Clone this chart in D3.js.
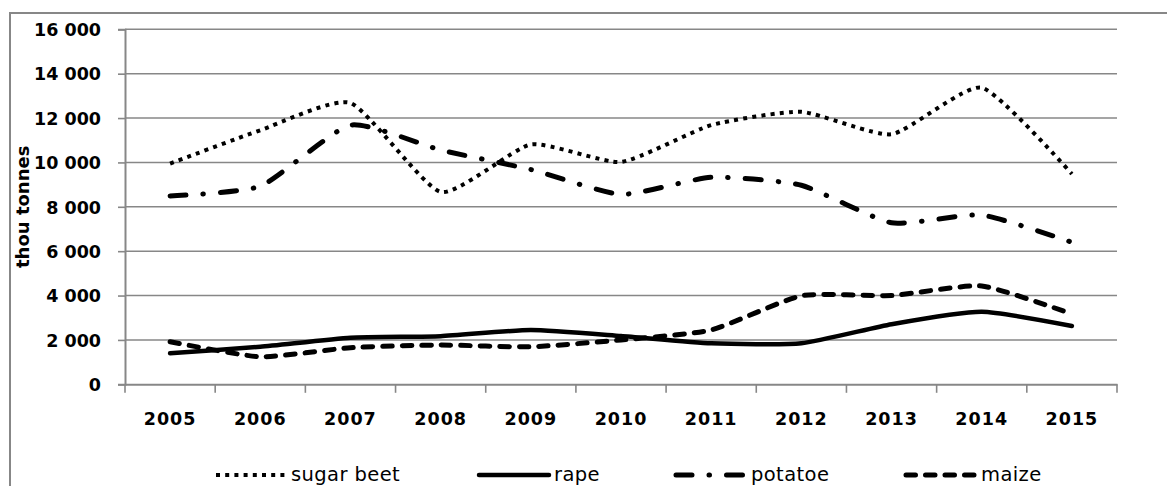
<!DOCTYPE html>
<html>
<head>
<meta charset="utf-8">
<script src="https://cdn.jsdelivr.net/npm/d3@7"></script>
<style>
  html, body { margin: 0; padding: 0; background: #fff; }
  svg { display: block; }
  text { font-family: "DejaVu Sans", Verdana, sans-serif; fill: #000; }
</style>
</head>
<body>
<svg id="chart" width="1167" height="486"></svg>
<script>
// Crop production, thousand tonnes
const years = ["2005", "2006", "2007", "2008", "2009", "2010", "2011", "2012", "2013", "2014", "2015"];
const sugarBeet = [9950, 11450, 12680, 8670, 10810, 10020, 11680, 12280, 11270, 13370, 9480];
const rape      = [1400, 1690, 2100, 2170, 2450, 2180, 1850, 1850, 2710, 3270, 2630];
const potatoe   = [8490, 8930, 11680, 10560, 9680, 8560, 9330, 8970, 7280, 7630, 6400];
const maize     = [1920, 1240, 1650, 1770, 1690, 2000, 2450, 3990, 4000, 4430, 3170];
const yTicks    = [0, 2000, 4000, 6000, 8000, 10000, 12000, 14000, 16000];
const yTitle    = "thou tonnes";

const series = [
  { name: "sugar beet", values: sugarBeet, width: 4,   dash: "4,5.2",        cap: "butt"  },
  { name: "rape",       values: rape,      width: 4.5, dash: null,           cap: "round" },
  { name: "potatoe",    values: potatoe,   width: 5,   dash: "16,17,0.5,17", cap: "round" },
  { name: "maize",      values: maize,     width: 5,   dash: "9.5,10",       cap: "round" }
];

const svg = d3.select("#chart");
const grey = "#878787";

// outer chart frame
svg.append("rect")
  .attr("x", 10).attr("y", 13)
  .attr("width", 1200).attr("height", 520)
  .attr("fill", "none").attr("stroke", grey).attr("stroke-width", 2);

const plot = { left: 125, right: 1117, top: 29.3, bottom: 384.3 };

const x = d3.scaleBand().domain(years).range([plot.left, plot.right]).padding(0);
const y = d3.scaleLinear().domain([0, 16000]).range([plot.bottom, plot.top]);

// horizontal gridlines
svg.append("g")
  .selectAll("line")
  .data(yTicks.filter(d => d > 0))
  .join("line")
  .attr("x1", plot.left).attr("x2", plot.right)
  .attr("y1", d => y(d)).attr("y2", d => y(d))
  .attr("stroke", grey).attr("stroke-width", 1.6);

// y axis
const yAxis = svg.append("g")
  .attr("transform", `translate(${plot.left},0)`)
  .call(d3.axisLeft(y).tickValues(yTicks).tickSize(7).tickPadding(17)
    .tickFormat(d => d3.format(",")(d).replace(/,/g, " ")));
yAxis.select(".domain").attr("stroke", grey).attr("stroke-width", 2);
yAxis.selectAll(".tick line").attr("stroke", grey).attr("stroke-width", 1.6);
yAxis.selectAll(".tick text")
  .style("font-family", "'DejaVu Sans', Verdana, sans-serif")
  .style("font-size", "17.5px").style("font-weight", "bold")
  .attr("dy", "0.36em");

// x axis
const xAxis = svg.append("g")
  .attr("transform", `translate(0,${plot.bottom})`)
  .call(d3.axisBottom(x).tickSize(0).tickPadding(28));
xAxis.select(".domain").attr("stroke", grey).attr("stroke-width", 2);
xAxis.selectAll(".tick text")
  .style("font-family", "'DejaVu Sans', Verdana, sans-serif")
  .style("font-size", "17.5px").style("font-weight", "bold")
  .style("letter-spacing", "1px");

// category boundary ticks
const bounds = years.map(d => x(d)).concat([x(years[years.length - 1]) + x.bandwidth()]);
svg.append("g")
  .selectAll("line")
  .data(bounds)
  .join("line")
  .attr("x1", d => d).attr("x2", d => d)
  .attr("y1", plot.bottom).attr("y2", plot.bottom + 8.5)
  .attr("stroke", grey).attr("stroke-width", 1.6);

// y axis title
svg.append("text")
  .attr("transform", `translate(29,${(plot.top + plot.bottom) / 2}) rotate(-90)`)
  .attr("text-anchor", "middle")
  .style("font-size", "18px").style("font-weight", "bold")
  .text(yTitle);

// series lines
const line = d3.line()
  .x((d, i) => x(years[i]) + x.bandwidth() / 2)
  .y(d => y(d))
  .curve(d3.curveCardinal.tension(0.45));

svg.append("g")
  .selectAll("path")
  .data(series)
  .join("path")
  .attr("d", s => line(s.values))
  .attr("fill", "none")
  .attr("stroke", "#000")
  .attr("stroke-width", s => s.width)
  .attr("stroke-linecap", s => s.cap)
  .attr("stroke-dasharray", s => s.dash);

// legend
const legendX = [216, 479, 676, 906];
const legendY = 475;
const lg = svg.append("g").selectAll("g").data(series).join("g")
  .attr("transform", (s, i) => `translate(${legendX[i]},${legendY})`);
lg.append("line")
  .attr("x1", 0).attr("x2", 70).attr("y1", 0).attr("y2", 0)
  .attr("stroke", "#000")
  .attr("stroke-width", s => s.width)
  .attr("stroke-linecap", s => s.cap)
  .attr("stroke-dasharray", s => s.dash);
lg.append("text")
  .attr("x", 75).attr("dy", "0.33em")
  .style("font-size", "19.5px")
  .style("letter-spacing", "0.4px")
  .text(s => s.name);
</script>
</body>
</html>
